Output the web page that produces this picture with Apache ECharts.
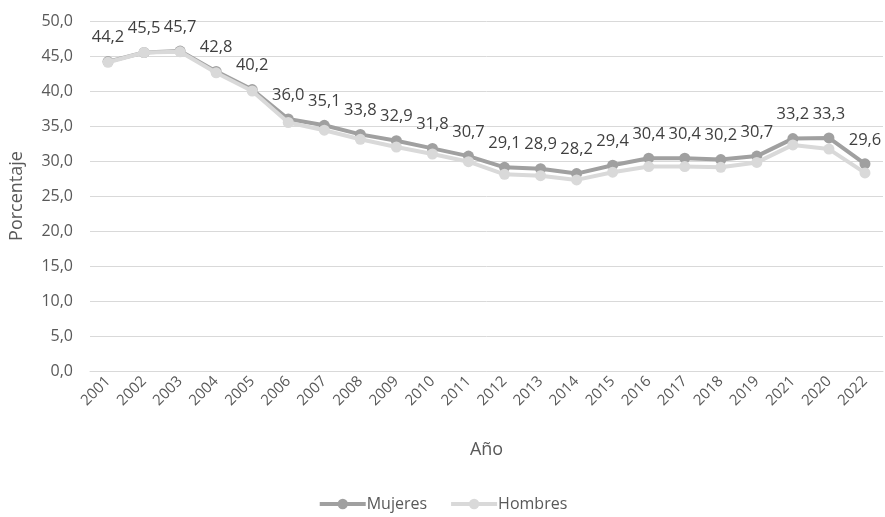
<!DOCTYPE html>
<html>
<head>
<meta charset="utf-8">
<script src="https://cdn.jsdelivr.net/npm/echarts@6/dist/echarts.min.js"></script>
<style>
  html, body { margin: 0; padding: 0; background: #fff; }
  #chart { width: 885px; height: 517px; }
</style>
</head>
<body>
<div id="chart"></div>
<script>
// Years in the order they are reported
const years = ['2001','2002','2003','2004','2005','2006','2007','2008','2009','2010','2011',
  '2012','2013','2014','2015','2016','2017','2018','2019','2021','2020','2022'];

// Percentage per year
const mujeres = [44.2, 45.5, 45.7, 42.8, 40.2, 36.0, 35.1, 33.8, 32.9, 31.8, 30.7,
  29.1, 28.9, 28.2, 29.4, 30.4, 30.4, 30.2, 30.7, 33.2, 33.3, 29.6];
const hombres = [44.1, 45.5, 45.6, 42.6, 40.0, 35.5, 34.4, 33.1, 32.0, 31.0, 29.9,
  28.1, 27.9, 27.3, 28.4, 29.2, 29.2, 29.1, 29.8, 32.3, 31.7, 28.3];

const FONT = '"Open Sans", sans-serif';
const comma = v => v.toFixed(1).replace('.', ',');

const chart = echarts.init(document.getElementById('chart'), null, { renderer: 'canvas' });
chart.setOption({
  animation: false,
  textStyle: { fontFamily: FONT },
  grid: { left: 90, right: 2, top: 21, bottom: 146 },
  legend: {
    bottom: 0,
    left: 'center',
    itemWidth: 46,
    itemHeight: 13,
    itemGap: 22,
    lineStyle: { width: 4 },
    textStyle: { fontFamily: FONT, fontSize: 16, color: '#595959', padding: [0, 0, 0, -4] },
    data: ['Mujeres', 'Hombres']
  },
  xAxis: {
    type: 'category',
    data: years,
    boundaryGap: true,
    name: 'Año',
    nameLocation: 'middle',
    nameGap: 70,
    nameTextStyle: { fontFamily: FONT, fontSize: 18, color: '#595959' },
    axisLine: { lineStyle: { color: '#d9d9d9', width: 1 } },
    axisTick: { show: false },
    axisLabel: { rotate: 45, interval: 0, fontSize: 15, color: '#595959', fontFamily: FONT, margin: 8 }
  },
  yAxis: {
    type: 'value',
    min: 0,
    max: 50,
    interval: 5,
    name: 'Porcentaje',
    nameLocation: 'middle',
    nameGap: 64,
    nameTextStyle: { fontFamily: FONT, fontSize: 18, color: '#595959' },
    axisLine: { show: false },
    axisTick: { show: false },
    splitLine: { lineStyle: { color: '#d9d9d9', width: 1 } },
    axisLabel: { formatter: v => comma(v), fontSize: 16, color: '#595959', fontFamily: FONT, margin: 17 }
  },
  series: [
    {
      name: 'Mujeres',
      type: 'line',
      data: mujeres,
      symbol: 'circle',
      symbolSize: 11,
      lineStyle: { color: '#a0a0a0', width: 4 },
      itemStyle: { color: '#a0a0a0' },
      label: {
        show: true,
        position: 'top',
        distance: 10,
        formatter: p => comma(p.value),
        fontSize: 16.5,
        color: '#404040',
        fontFamily: FONT
      },
      z: 2
    },
    {
      name: 'Hombres',
      type: 'line',
      data: hombres,
      symbol: 'circle',
      symbolSize: 11,
      lineStyle: { color: '#d9d9d9', width: 4 },
      itemStyle: { color: '#d9d9d9' },
      z: 3
    }
  ]
});
</script>
</body>
</html>
